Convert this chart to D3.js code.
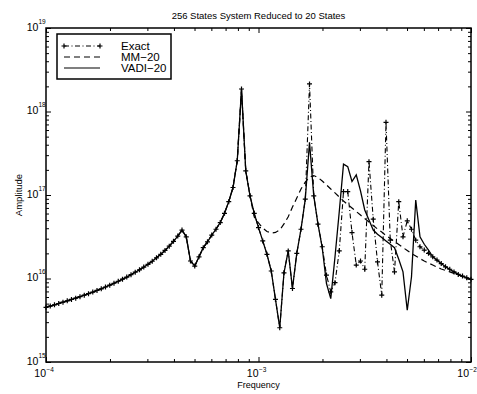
<!DOCTYPE html>
<html>
<head>
<meta charset="utf-8">
<script src="https://cdn.jsdelivr.net/npm/d3@7"></script>
<style>
body { margin: 0; background: #fff; }
text { font-family: "Liberation Sans", Arial, Helvetica, sans-serif; fill: #000; }
</style>
</head>
<body>
<div id="VizBox"></div>
<script>

// frequency grid (Hz), one point per marker of the exact curve
var freq = [
  1.000e-4, 1.047e-4, 1.096e-4, 1.148e-4, 1.202e-4, 1.259e-4, 1.318e-4, 1.380e-4, 1.445e-4, 1.514e-4,
  1.585e-4, 1.660e-4, 1.738e-4, 1.820e-4, 1.905e-4, 1.995e-4, 2.089e-4, 2.188e-4, 2.291e-4, 2.399e-4,
  2.512e-4, 2.630e-4, 2.754e-4, 2.884e-4, 3.020e-4, 3.162e-4, 3.311e-4, 3.467e-4, 3.631e-4, 3.802e-4,
  3.981e-4, 4.169e-4, 4.365e-4, 4.571e-4, 4.786e-4, 5.012e-4, 5.248e-4, 5.495e-4, 5.754e-4, 6.026e-4,
  6.310e-4, 6.607e-4, 6.918e-4, 7.244e-4, 7.586e-4, 7.943e-4, 8.318e-4, 8.710e-4, 9.120e-4, 9.550e-4,
  1.000e-3, 1.047e-3, 1.096e-3, 1.148e-3, 1.202e-3, 1.259e-3, 1.318e-3, 1.380e-3, 1.445e-3, 1.514e-3,
  1.585e-3, 1.660e-3, 1.738e-3, 1.820e-3, 1.905e-3, 1.995e-3, 2.089e-3, 2.188e-3, 2.291e-3, 2.399e-3,
  2.512e-3, 2.630e-3, 2.754e-3, 2.884e-3, 3.020e-3, 3.162e-3, 3.311e-3, 3.467e-3, 3.631e-3, 3.802e-3,
  3.981e-3, 4.169e-3, 4.365e-3, 4.571e-3, 4.786e-3, 5.012e-3, 5.248e-3, 5.495e-3, 5.754e-3, 6.026e-3,
  6.310e-3, 6.607e-3, 6.918e-3, 7.244e-3, 7.586e-3, 7.943e-3, 8.318e-3, 8.710e-3, 9.120e-3, 9.550e-3,
  1.000e-2
];

var exact = [
  4.52e15, 4.68e15, 4.84e15, 5.02e15, 5.21e15, 5.41e15, 5.61e15, 5.82e15, 6.05e15, 6.31e15,
  6.58e15, 6.87e15, 7.19e15, 7.53e15, 7.91e15, 8.32e15, 8.77e15, 9.27e15, 9.82e15, 1.04e16,
  1.11e16, 1.19e16, 1.27e16, 1.37e16, 1.48e16, 1.61e16, 1.77e16, 1.95e16, 2.17e16, 2.44e16,
  2.79e16, 3.22e16, 3.80e16, 3.16e16, 1.62e16, 1.41e16, 1.82e16, 2.34e16, 2.75e16, 3.31e16,
  3.89e16, 4.68e16, 6.03e16, 8.32e16, 1.23e17, 2.57e17, 1.86e18, 1.95e17, 9.77e16, 6.03e16,
  4.07e16, 2.82e16, 1.95e16, 1.23e16, 5.62e15, 2.57e15, 1.17e16, 2.14e16, 7.59e15, 2.00e16,
  3.89e16, 8.91e16, 2.14e18, 9.77e16, 4.47e16, 2.40e16, 1.10e16, 6.92e15, 8.91e15, 2.14e16,
  1.10e17, 1.10e17, 3.55e16, 1.45e16, 1.62e16, 1.29e16, 2.51e17, 5.13e16, 1.58e16, 6.31e15,
  7.41e17, 2.88e16, 1.20e16, 8.32e16, 3.16e16, 4.90e16, 3.89e16, 2.88e16, 2.40e16, 2.19e16,
  2.00e16, 1.82e16, 1.66e16, 1.51e16, 1.38e16, 1.29e16, 1.20e16, 1.12e16, 1.07e16, 1.02e16,
  9.77e15
];

var mm20 = [
  4.52e15, 4.68e15, 4.84e15, 5.02e15, 5.21e15, 5.41e15, 5.61e15, 5.82e15, 6.05e15, 6.31e15,
  6.58e15, 6.87e15, 7.19e15, 7.53e15, 7.91e15, 8.32e15, 8.77e15, 9.27e15, 9.82e15, 1.04e16,
  1.11e16, 1.19e16, 1.27e16, 1.37e16, 1.48e16, 1.61e16, 1.77e16, 1.95e16, 2.17e16, 2.44e16,
  2.79e16, 3.22e16, 3.80e16, 3.16e16, 1.62e16, 1.41e16, 1.82e16, 2.34e16, 2.75e16, 3.31e16,
  3.89e16, 4.68e16, 6.03e16, 8.32e16, 1.23e17, 2.57e17, 1.86e18, 1.95e17, 9.77e16, 5.46e16,
  4.62e16, 4.03e16, 3.66e16, 3.51e16, 3.56e16, 3.81e16, 4.50e16, 5.50e16, 7.18e16, 9.20e16,
  1.18e17, 1.43e17, 1.64e17, 1.71e17, 1.62e17, 1.47e17, 1.32e17, 1.18e17, 1.06e17, 9.46e16,
  8.47e16, 7.69e16, 6.98e16, 6.34e16, 5.75e16, 5.23e16, 4.75e16, 4.31e16, 3.92e16, 3.61e16,
  3.27e16, 3.01e16, 2.77e16, 2.55e16, 2.35e16, 2.16e16, 1.99e16, 1.86e16, 1.73e16, 1.62e16,
  1.53e16, 1.45e16, 1.37e16, 1.30e16, 1.25e16, 1.20e16, 1.15e16, 1.10e16, 1.06e16, 1.01e16,
  9.73e15
];

var vadi20 = [
  4.52e15, 4.68e15, 4.84e15, 5.02e15, 5.21e15, 5.41e15, 5.61e15, 5.82e15, 6.05e15, 6.31e15,
  6.58e15, 6.87e15, 7.19e15, 7.53e15, 7.91e15, 8.32e15, 8.77e15, 9.27e15, 9.82e15, 1.04e16,
  1.11e16, 1.19e16, 1.27e16, 1.37e16, 1.48e16, 1.61e16, 1.77e16, 1.95e16, 2.17e16, 2.44e16,
  2.79e16, 3.22e16, 3.80e16, 3.16e16, 1.62e16, 1.41e16, 1.82e16, 2.34e16, 2.75e16, 3.31e16,
  3.89e16, 4.68e16, 6.03e16, 8.32e16, 1.23e17, 2.57e17, 1.86e18, 1.95e17, 9.77e16, 6.03e16,
  4.07e16, 2.82e16, 1.95e16, 1.23e16, 5.62e15, 2.57e15, 1.17e16, 2.14e16, 7.59e15, 2.00e16,
  3.89e16, 8.91e16, 4.27e17, 9.77e16, 4.47e16, 2.34e16, 8.71e15, 5.75e15, 1.82e16, 6.31e16,
  2.34e17, 2.19e17, 1.45e17, 1.74e17, 1.12e17, 6.61e16, 5.01e16, 3.80e16, 3.39e16, 3.09e16,
  2.82e16, 2.57e16, 2.34e16, 1.70e16, 1.20e16, 4.17e15, 1.05e16, 8.71e16, 3.16e16, 2.57e16,
  2.19e16, 1.82e16, 1.66e16, 1.51e16, 1.38e16, 1.29e16, 1.20e16, 1.12e16, 1.07e16, 1.02e16,
  9.77e15
];

var xMajor = [1e-4, 1e-3, 1e-2];
var xExp = ["\u22124", "\u22123", "\u22122"];
var yMajor = [1e15, 1e16, 1e17, 1e18, 1e19];
var yExp = ["15", "16", "17", "18", "19"];
var seriesNames = ["Exact", "MM\u221220", "VADI\u221220"];

// Dimensions and margins
var margin = {top: 28, right: 6, bottom: 32, left: 46},
  width = 477 - margin.left - margin.right,
  height = 394 - margin.top - margin.bottom;

var svg = d3.select("#VizBox")
.append("svg")
  .attr("width", width + margin.left + margin.right)
  .attr("height", height + margin.top + margin.bottom)
.append("g")
  .attr("transform", "translate(" + margin.left + "," + margin.top + ")");

var x = d3.scaleLog().domain([1e-4, 1e-2]).range([0, width]);
var y = d3.scaleLog().domain([1e15, 1e19]).range([height, 0]);

// ticks on all four sides, pointing inwards
var xMinor = x.ticks().filter(function(d) { return xMajor.indexOf(d) < 0; });
var yMinor = y.ticks().filter(function(d) { return yMajor.map(String).indexOf(String(d)) < 0; });

function ticks(axis, scale, vals, len, tr) {
  svg.append("g")
    .attr("transform", tr)
    .call(axis(scale).tickValues(vals).tickSize(-len).tickFormat(""))
    .call(function(g) { g.select(".domain").remove(); });
}
ticks(d3.axisBottom, x, xMinor, 3, "translate(0," + height + ")");
ticks(d3.axisBottom, x, xMajor, 5, "translate(0," + height + ")");
ticks(d3.axisTop, x, xMinor, 3, "translate(0,0)");
ticks(d3.axisTop, x, xMajor, 5, "translate(0,0)");
ticks(d3.axisLeft, y, yMinor, 3, "translate(0,0)");
ticks(d3.axisLeft, y, yMajor, 5, "translate(0,0)");
ticks(d3.axisRight, y, yMinor, 3, "translate(" + width + ",0)");
ticks(d3.axisRight, y, yMajor, 5, "translate(" + width + ",0)");

svg.append("rect")
  .attr("width", width).attr("height", height)
  .attr("fill", "none").attr("stroke", "#000").attr("stroke-width", 1.5);

// tick labels as 10 with a raised exponent
xMajor.forEach(function(v, i) {
  var shift = i == xMajor.length - 1 ? -2 : 0;
  svg.append("text").attr("x", x(v) + shift).attr("y", height + 15)
    .attr("text-anchor", "end").attr("font-size", 10.5).text("10");
  svg.append("text").attr("x", x(v) + shift + 0.5).attr("y", height + 9.5)
    .attr("font-size", 6.5).text(xExp[i]);
});
yMajor.forEach(function(v, i) {
  svg.append("text").attr("x", -7.7).attr("y", y(v) + 2.5)
    .attr("text-anchor", "end").attr("font-size", 10.5).text("10");
  svg.append("text").attr("x", -7.5).attr("y", y(v) - 4.5)
    .attr("font-size", 6.5).text(yExp[i]);
});

svg.append("text")
  .attr("x", width / 2).attr("y", -9.5)
  .attr("text-anchor", "middle").attr("font-size", 9.5)
  .text("256 States System Reduced to 20 States");
svg.append("text")
  .attr("x", width / 2).attr("y", height + 26)
  .attr("text-anchor", "middle").attr("font-size", 9)
  .text("Frequency");
svg.append("text")
  .attr("transform", "translate(-24.5," + (height / 2) + ") rotate(-90)")
  .attr("text-anchor", "middle").attr("font-size", 9.5)
  .text("Amplitude");

// curves
function pts(vals) {
  return freq.map(function(f, i) { return {f: f, a: vals[i]}; });
}
var line = d3.line()
  .x(function(d) { return x(d.f); })
  .y(function(d) { return y(d.a); });

var styles = [
  {data: exact, dash: "5,2.5,1,2.5"},
  {data: mm20, dash: "6,4"},
  {data: vadi20, dash: null}
];

svg.append("path").datum(pts(mm20))
  .attr("d", line).attr("fill", "none").attr("stroke", "#000")
  .attr("stroke-width", 1.2).attr("stroke-dasharray", styles[1].dash);
svg.append("path").datum(pts(vadi20))
  .attr("d", line).attr("fill", "none").attr("stroke", "#000")
  .attr("stroke-width", 1.3);
svg.append("path").datum(pts(exact))
  .attr("d", line).attr("fill", "none").attr("stroke", "#000")
  .attr("stroke-width", 1.1).attr("stroke-dasharray", styles[0].dash);

var plus = "M-2.5,0H2.5M0,-2.5V2.5";
svg.selectAll(".mk")
  .data(pts(exact))
  .enter()
  .append("path")
    .attr("class", "mk")
    .attr("transform", function(d) { return "translate(" + x(d.f) + "," + y(d.a) + ")"; })
    .attr("d", plus)
    .attr("stroke", "#000").attr("stroke-width", 1.2).attr("fill", "none");

// legend
var leg = svg.append("g").attr("transform", "translate(11,6)");
leg.append("rect")
  .attr("width", 114).attr("height", 45)
  .attr("fill", "#fff").attr("stroke", "#000").attr("stroke-width", 1.5);
seriesNames.forEach(function(name, i) {
  var ly = 12 + i * 11;
  var ln = leg.append("line")
    .attr("x1", 7).attr("x2", 43).attr("y1", ly).attr("y2", ly)
    .attr("stroke", "#000").attr("stroke-width", 1.2);
  if (styles[i].dash) ln.attr("stroke-dasharray", styles[i].dash);
  if (i == 0) {
    [7, 43].forEach(function(px) {
      leg.append("path").attr("d", plus)
        .attr("transform", "translate(" + px + "," + ly + ")")
        .attr("stroke", "#000").attr("stroke-width", 1.2).attr("fill", "none");
    });
  }
  leg.append("text")
    .attr("x", 64).attr("y", ly + 4)
    .attr("font-size", 11.5)
    .text(name);
});

</script>
</body>
</html>
